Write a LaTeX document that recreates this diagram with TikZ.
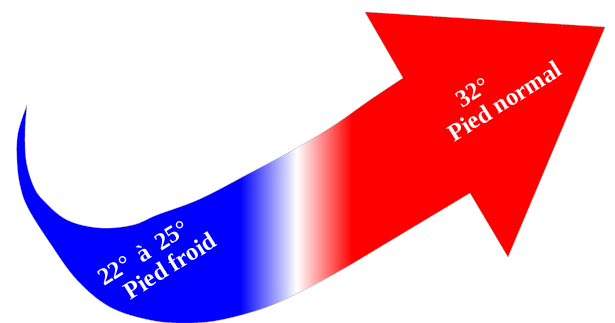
\documentclass[tikz,border=0pt]{standalone}
\usepackage{fontspec}
\setmainfont{Liberation Serif}
\usetikzlibrary{positioning}
\pgfdeclarehorizontalshading{froidchaud}{100bp}{color(0bp)=(blue); color(44.5bp)=(blue); color(49.1bp)=(white); color(53.6bp)=(red); color(100bp)=(red)}

\begin{document}
\begin{tikzpicture}[
  x=1pt, y=-1pt,
  etiquette/.style={text=white, font=\bfseries\fontsize{24.5}{25}\selectfont, rotate=32, inner sep=0pt, align=left},
  contour/.style={draw=gray!60, line width=0.3pt},
]
\useasboundingbox (0,0) rectangle (615,322);

% contour de la fleche
\def\fleche{(27,105) -- plot[smooth, tension=0.6] coordinates {(27,105) (18,133) (17,160) (20,185) (28,208) (50,243) (77,280) (110,307) (150,320) (185,323) (220,320) (267,307) (310,287) (350,265)} -- (470,193) -- (508,257) -- (605,27) -- (365,12) -- (403,78) -- plot[smooth, tension=0.6] coordinates {(403,78) (370,100) (333,126) (293,150) (250,173) (200,199) (157,215) (133,225) (100,228) (67,220) (43,200) (33,185) (26,160) (25,130) (27,105)} -- cycle}

\begin{scope}
  \clip \fleche;
  \shade[shading=froidchaud] (0,0) rectangle (615,322);
\end{scope}
\draw[contour] \fleche;

% textes
\node[etiquette] (froid) at (157,259) {22°\hspace{0.42em}à\hspace{0.42em}25°\\\hspace*{15pt}Pied froid};
\node[etiquette] (normal) at (498,91) {\hspace*{25pt}32°\\Pied normal};

\end{tikzpicture}
\end{document}
